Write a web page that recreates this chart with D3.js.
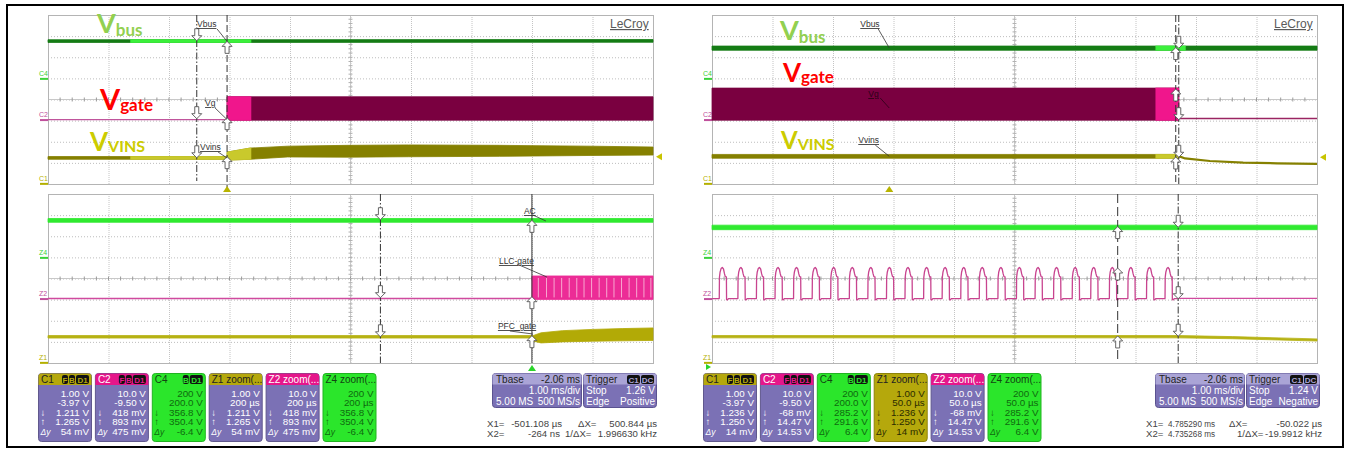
<!DOCTYPE html>
<html><head><meta charset="utf-8">
<script src="https://cdn.jsdelivr.net/npm/d3@7/dist/d3.min.js"></script>
<style>
html,body{margin:0;padding:0;background:#fff;}
svg{display:block;font-family:"Liberation Sans",Arial,sans-serif;}
</style></head><body>
<svg id="chart" width="1348" height="452"></svg>
<script>
// ================= DATA =================
const channelNames = ["C1", "C2", "C4"];
const zoomNames = ["Z1", "Z2", "Z4"];
const voltsPerDiv = [1.0, 10.0, 200.0];
const offsetVolts = [-3.97, -9.50, 200.0];
const channelLabelColors = ["#b4b000", "#c0509c", "#3ad23a"];

// ---- left capture (turn-on) ----
const leftTopDomainMs = [-2.96, 7.04];
const leftZoomDomainUs = [-1600, 400];
const leftCursorMs = [-0.501108, -0.000264];
const leftTrigLevel = 1.26;
const leftReadC1 = [1.211, 1.265];
const leftReadC2 = [0.418, 0.893];
const leftReadC4 = [356.8, 350.4];

const leftVbusEnv = [[-2.96, 340, 366], [0.0, 340, 366], [7.04, 342, 368]];
const leftVgatePre = [[-2.96, 0.0], [0.0, 0.0]];
const leftVgateEnv = [[0.0, -0.3, 10.8], [7.04, -0.3, 10.8]];
const leftVinsPre = [[-2.96, 1.14, 1.27], [0.0, 1.14, 1.27]];
const leftVinsEnv = [[0.0, 1.10, 1.48], [0.38, 1.14, 1.67], [1.0, 1.25, 1.76], [2.0, 1.24, 1.80],
                     [3.0, 1.26, 1.82], [4.5, 1.28, 1.80], [6.0, 1.32, 1.76], [7.04, 1.34, 1.72]];

const leftZ4Env = [[-1600, 332, 368], [400, 332, 368]];
const leftZ2Pre = [[-1600, 0.0], [0.0, 0.0]];
const leftZ2Env = [[0, -0.4, 10.7], [400, -0.4, 10.7]];
const leftZ2Gaps = [21, 48, 73, 98, 123, 148, 172, 197, 222, 247, 271, 296, 321, 346, 370, 393];
const leftZ1Pre = [[-1600, 1.15, 1.27], [0, 1.15, 1.27]];
const leftZ1Env = [[0, 1.02, 1.25], [30, 0.92, 1.40], [100, 0.97, 1.50], [200, 1.0, 1.56], [300, 1.02, 1.60], [400, 1.04, 1.63]];

// ---- right capture (turn-off) ----
const rightTopDomainMs = [-2.93, 7.07];
const rightZoomDomainUs = [4400, 4900];
const rightCursorMs = [4.785290, 4.735268];
const rightTrigLevel = 1.24;
const rightReadC1 = [1.236, 1.250];
const rightReadC2 = [-0.068, 14.47];
const rightReadC4 = [285.2, 291.6];

const rightVbusEnv = [[-2.93, 266, 306], [7.07, 266, 306]];
const rightVgateEnv = [[-2.93, -0.3, 14.9], [4.785, -0.3, 14.9]];
const rightVgatePost = [[4.785, 0.45], [7.07, 0.45]];
const rightVinsEnv = [[-2.93, 1.19, 1.37], [4.785, 1.19, 1.37]];
const rightVinsPost = [[4.785, 1.29], [4.89, 1.18], [5.30, 1.06], [5.85, 0.98], [6.41, 0.95], [7.07, 0.92]];

const rightZ4Env = [[4400, 262, 305], [4900, 262, 305]];
const rightZ2Rises = [4406.0, 4421.4, 4436.7, 4452.1, 4467.4, 4482.8, 4498.1, 4513.5, 4528.8, 4544.2,
                      4559.5, 4574.9, 4590.2, 4605.6, 4620.9, 4636.3, 4651.6, 4667.0, 4682.3, 4697.7,
                      4713.0, 4728.4, 4743.7, 4759.1, 4774.4];
const pulseShapeUs = [0, 0.15, 0.7, 1.5, 2.5, 3.5, 4.3, 5.0, 5.9, 6.05, 6.8, 7.6];
const pulseShapeV  = [0, 10.0, 12.6, 14.2, 14.7, 14.0, 11.8, 10.4, 10.3, -0.5, -0.6, 0];
const rightZ2Post = [[4785, 0.1], [4900, 0.1]];
const rightZ1Env = [[4400, 1.16, 1.27], [4785, 1.16, 1.27], [4830, 1.12, 1.22], [4900, 1.01, 1.11]];

// ---- status bar texts ----
const boxTitles = ["C1", "C2", "C4", "Z1", "Z2", "Z4"];
const boxBadges = [["F", "B", "D1"], ["F", "B", "D1"], ["B", "D1"], [], [], []];
const rowSymbols = ["", "", "\u2193", "\u2191", "\u0394y"];
const leftBoxValues = [
  ["1.00 V", "-3.97 V", "1.211 V", "1.265 V", "54 mV"],
  ["10.0 V", "-9.50 V", "418 mV", "893 mV", "475 mV"],
  ["200 V", "200.0 V", "356.8 V", "350.4 V", "-6.4 V"],
  ["1.00 V", "200 \u00b5s", "1.211 V", "1.265 V", "54 mV"],
  ["10.0 V", "200 \u00b5s", "418 mV", "893 mV", "475 mV"],
  ["200 V", "200 \u00b5s", "356.8 V", "350.4 V", "-6.4 V"]];
const rightBoxValues = [
  ["1.00 V", "-3.97 V", "1.236 V", "1.250 V", "14 mV"],
  ["10.0 V", "-9.50 V", "-68 mV", "14.47 V", "14.53 V"],
  ["200 V", "200.0 V", "285.2 V", "291.6 V", "6.4 V"],
  ["1.00 V", "50.0 \u00b5s", "1.236 V", "1.250 V", "14 mV"],
  ["10.0 V", "50.0 \u00b5s", "-68 mV", "14.47 V", "14.53 V"],
  ["200 V", "50.0 \u00b5s", "285.2 V", "291.6 V", "6.4 V"]];
const leftTbase = ["-2.06 ms", "1.00 ms/div", "5.00 MS", "500 MS/s"];
const rightTbase = ["-2.06 ms", "1.00 ms/div", "5.00 MS", "500 MS/s"];
const leftTrigger = ["C1", "DC", "1.26 V", "Positive"];
const rightTrigger = ["C1", "DC", "1.24 V", "Negative"];
const leftCursorText = ["-501.108 \u00b5s", "-264 ns", "500.844 \u00b5s", "1.996630 kHz"];
const rightCursorText = ["4.785290 ms", "4.735268 ms", "-50.022 \u00b5s", "-19.9912 kHz"];

// ================= LAYOUT / DRAW =================
const svg = d3.select("#chart");
const GW = 605;
const TOPY = [15, 184], BOTY = [194, 363];
const LX = 48, RX = 712;

const C = {
  vbusDark: "#157c15", vbusBright: "#3cf03c",
  gateDark: "#7a0040", gatePink: "#f0168c", gateLine: "#c0559c",
  vinsDark: "#858000", vinsLight: "#c9c92c",
  z4: "#30ea30", z2: "#ec2c96", z2line: "#d04a9e", z2pulse: "#c8448f", z1: "#b6b214", z1band: "#b2aa06",
  purple: "#7b71b5", olive: "#b5a80c", pink: "#e5168a", green: "#2be62b"
};

svg.append("rect").attr("width", 1348).attr("height", 452).attr("fill", "#fff");
svg.append("rect").attr("x", 7).attr("y", 5).attr("width", 1336).attr("height", 442)
  .attr("fill", "none").attr("stroke", "#000").attr("stroke-width", 2);

function yScale(ch, yr) {
  const vd = voltsPerDiv[ch], off = offsetVolts[ch];
  return d3.scaleLinear().domain([-4 * vd - off, 4 * vd - off]).range([yr[1], yr[0]]);
}

let clipId = 0;
function clipRect(x0, x1, y0, y1) {
  const id = "clip" + (clipId++);
  svg.append("clipPath").attr("id", id).append("rect")
    .attr("x", x0).attr("y", y0).attr("width", Math.max(0, x1 - x0)).attr("height", y1 - y0);
  return "url(#" + id + ")";
}

function drawGrid(x0, yr) {
  const g = svg.append("g");
  const [y0, y1] = yr;
  const dx = d3.scaleLinear().domain([0, 10]).range([x0, x0 + GW]);
  const dy = d3.scaleLinear().domain([0, 8]).range([y0, y1]);
  g.append("g").attr("transform", `translate(0,${y0})`)
    .call(d3.axisTop(dx).tickValues(d3.range(1, 10)).tickSize(-(y1 - y0)).tickFormat(""))
    .call(s => s.select(".domain").remove())
    .call(s => s.selectAll("line").attr("stroke", "#c4c4c4").attr("stroke-dasharray", "1,1"));
  g.append("g").attr("transform", `translate(${x0},0)`)
    .call(d3.axisLeft(dy).tickValues(d3.range(1, 8)).tickSize(-GW).tickFormat(""))
    .call(s => s.select(".domain").remove())
    .call(s => s.selectAll("line").attr("stroke", "#bdbdbd").attr("stroke-dasharray", "1,2"));
  const cy = dy(4), cx = dx(5);
  g.append("line").attr("x1", x0).attr("x2", x0 + GW).attr("y1", cy).attr("y2", cy).attr("stroke", "#c8c8c8");
  g.append("line").attr("x1", cx).attr("x2", cx).attr("y1", y0).attr("y2", y1).attr("stroke", "#c8c8c8");
  g.selectAll(".tx").data(d3.range(1, 50)).join("line")
    .attr("x1", d => dx(d / 5)).attr("x2", d => dx(d / 5)).attr("y1", cy - 2).attr("y2", cy + 2)
    .attr("stroke", "#9a9a9a");
  g.selectAll(".ty").data(d3.range(1, 40)).join("line")
    .attr("x1", cx - 2).attr("x2", cx + 2).attr("y1", d => dy(d / 5)).attr("y2", d => dy(d / 5))
    .attr("stroke", "#b0b0b0");
  g.append("rect").attr("x", x0 + 0.5).attr("y", y0 + 0.5).attr("width", GW).attr("height", y1 - y0)
    .attr("fill", "none").attr("stroke", "#b4b4b4");
}

function band(env, xs, ys, color, clip, sw) {
  const p = svg.append("path").datum(env)
    .attr("d", d3.area().x(d => xs(d[0])).y0(d => ys(d[1])).y1(d => ys(d[2])))
    .attr("fill", color).attr("stroke", color).attr("stroke-width", sw == null ? 0.8 : sw);
  if (clip) p.attr("clip-path", clip);
  return p;
}
function trace(pts, xs, ys, color, w, clip) {
  const p = svg.append("path").datum(pts)
    .attr("d", d3.line().x(d => xs(d[0])).y(d => ys(d[1])))
    .attr("fill", "none").attr("stroke", color).attr("stroke-width", w).attr("stroke-linejoin", "round");
  if (clip) p.attr("clip-path", clip);
  return p;
}

function chanMarkers(x0, yr, names) {
  names.forEach((n, i) => {
    const ys = yScale(i, yr);
    const y = Math.min(ys(0), yr[1]);
    svg.append("line").attr("x1", x0 - 8).attr("x2", x0).attr("y1", y + 0.5).attr("y2", y + 0.5)
      .attr("stroke", channelLabelColors[i]).attr("stroke-width", 2);
    svg.append("text").attr("x", x0 - 9).attr("y", y - 2.5).attr("font-size", 7)
      .attr("fill", channelLabelColors[i]).text(n);
  });
}

function cursorLine(x, yr, dash) {
  const l = svg.append("line").attr("x1", x).attr("x2", x).attr("y1", yr[0]).attr("y2", yr[1])
    .attr("stroke", "#333").attr("stroke-width", 1);
  if (dash) l.attr("stroke-dasharray", dash);
}
function arrow(x, yTip, s) {
  const pts = [[0, 0], [-5, -5], [-2, -5], [-2, -12], [2, -12], [2, -5], [5, -5]];
  svg.append("path").attr("d", d3.line()(pts.map(([a, b]) => [x + a, yTip + b * s])) + "Z")
    .attr("fill", "#fff").attr("stroke", "#555").attr("stroke-width", 0.9);
}
function tag(txt, x, y, lx1, ly1, lx2, ly2, fill) {
  svg.append("text").attr("x", x).attr("y", y).attr("font-size", 8.5)
    .attr("fill", fill || "#333").attr("text-decoration", "underline").text(txt);
  svg.append("line").attr("x1", lx1).attr("y1", ly1).attr("x2", lx2).attr("y2", ly2)
    .attr("stroke", fill || "#333").attr("stroke-width", 0.8);
}
function bigLabel(x, y, main, sub, size, subSize, color, dy) {
  const t = svg.append("text").attr("x", x).attr("y", y).attr("fill", color)
    .attr("font-family", "Lato, 'Open Sans', sans-serif").attr("font-weight", 700);
  t.append("tspan").attr("font-size", size).text(main);
  t.append("tspan").attr("font-size", subSize).attr("dy", dy).text(sub);
}
function lecroy(x, y) {
  svg.append("text").attr("x", x).attr("y", y).attr("font-size", 12).attr("fill", "#5a5a5a")
    .attr("text-decoration", "underline").text("LeCroy");
}
function trigMarkers(xTop, xBot, x0, trigLevelY, botColor, botLeft) {
  svg.append("path").attr("d", `M${xTop - 4},${TOPY[1] + 8} L${xTop},${TOPY[1] + 2} L${xTop + 4},${TOPY[1] + 8}Z`)
    .attr("fill", "#b8b400");
  if (botLeft) {
    svg.append("path").attr("d", `M${x0 - 1},${BOTY[1] + 4} L${x0 - 6},${BOTY[1] + 1} L${x0 - 6},${BOTY[1] + 7}Z`)
      .attr("fill", botColor);
  } else {
    svg.append("path").attr("d", `M${xBot - 4},${BOTY[1] + 8} L${xBot},${BOTY[1] + 2} L${xBot + 4},${BOTY[1] + 8}Z`)
      .attr("fill", botColor);
  }
  svg.append("path").attr("d", `M${x0 + GW + 3},${trigLevelY} L${x0 + GW + 9},${trigLevelY - 3.5} L${x0 + GW + 9},${trigLevelY + 3.5}Z`)
    .attr("fill", "#c8c400");
}

// ================= LEFT CAPTURE =================
(function () {
  drawGrid(LX, TOPY); drawGrid(LX, BOTY);
  const xT = d3.scaleLinear().domain(leftTopDomainMs).range([LX, LX + GW]);
  const xZ = d3.scaleLinear().domain(leftZoomDomainUs).range([LX, LX + GW]);
  const y1 = yScale(0, TOPY), y2 = yScale(1, TOPY), y4 = yScale(2, TOPY);
  const z1 = yScale(0, BOTY), z2 = yScale(1, BOTY), z4 = yScale(2, BOTY);
  const hl = clipRect(xT(leftZoomDomainUs[0] / 1000), xT(leftZoomDomainUs[1] / 1000), 0, 200);

  chanMarkers(LX, TOPY, channelNames);
  chanMarkers(LX, BOTY, zoomNames);

  band(leftVbusEnv, xT, y4, C.vbusDark);
  band(leftVbusEnv, xT, y4, C.vbusBright, hl);
  trace(leftVgatePre, xT, y2, C.gateLine, 1.3);
  band(leftVgateEnv, xT, y2, C.gateDark);
  band(leftVgateEnv, xT, y2, C.gatePink, hl);
  band(leftVinsPre, xT, y1, C.vinsDark);
  band(leftVinsEnv, xT, y1, C.vinsDark);
  band(leftVinsPre, xT, y1, C.vinsLight, hl);
  band(leftVinsEnv, xT, y1, C.vinsLight, hl);

  band(leftZ4Env, xZ, z4, C.z4);
  trace(leftZ2Pre, xZ, z2, C.z2line, 1.6);
  band(leftZ2Env, xZ, z2, C.z2);
  svg.selectAll(".gap").data(leftZ2Gaps).join("line")
    .attr("x1", d => xZ(d)).attr("x2", d => xZ(d))
    .attr("y1", z2(10.7) + 2).attr("y2", z2(-0.4) - 2)
    .attr("stroke", "#f7a8d0").attr("stroke-width", 1);
  band(leftZ1Pre, xZ, z1, C.z1);
  band(leftZ1Env, xZ, z1, C.z1band);

  const xa = xT(leftCursorMs[0]), xb = xT(leftCursorMs[1]);
  cursorLine(xa, [TOPY[0], TOPY[1] - 3], "7,2,1.5,2");
  cursorLine(xb, [TOPY[0], TOPY[1] + 5], "7,3");
  [[y4, leftReadC4], [y2, leftReadC2], [y1, leftReadC1]].forEach(([ys, r]) => {
    arrow(xa, ys(r[0]), 1); arrow(xb, ys(r[1]), -1);
  });
  const za = xZ(leftCursorMs[0] * 1000), zb = xZ(leftCursorMs[1] * 1000);
  cursorLine(za, BOTY, "7,2,1.5,2");
  cursorLine(zb, [BOTY[0], BOTY[1]], null);
  [[z4, leftReadC4], [z2, leftReadC2], [z1, leftReadC1]].forEach(([ys, r]) => {
    arrow(za, ys(r[0]), 1); arrow(zb, ys(r[1]), -1);
  });

  tag("Vbus", xb - 30, 27, xb - 10, 29, xb, y4(leftReadC4[1]));
  tag("Vg", xb - 22, 106, xb - 12, 108, xb, y2(0));
  tag("Vvins", xb - 27, 150, xb - 9, 152, xb, y1(1.2));
  tag("AC", zb - 8, 214, zb + 1, 215, zb + 14, 221);
  tag("LLC-gate", zb - 33, 264, zb - 15, 264, zb + 15, 277);
  tag("PFC_gate", zb - 34, 329, zb - 22, 331, zb + 1, 334);

  bigLabel(97, 33, "V", "bus", 27, 17, "#92d050", 3);
  bigLabel(100, 110, "V", "gate", 29, 17, "#ff0000", 1);
  bigLabel(90, 151, "V", "VINS", 26, 16, "#cccc00", 1);
  lecroy(610, 28);
  trigMarkers(xT(0), xZ(0), LX, y1(leftTrigLevel), "#2ad42a", false);
})();

// ================= RIGHT CAPTURE =================
(function () {
  drawGrid(RX, TOPY); drawGrid(RX, BOTY);
  const xT = d3.scaleLinear().domain(rightTopDomainMs).range([RX, RX + GW]);
  const xZ = d3.scaleLinear().domain(rightZoomDomainUs).range([RX, RX + GW]);
  const y1 = yScale(0, TOPY), y2 = yScale(1, TOPY), y4 = yScale(2, TOPY);
  const z1 = yScale(0, BOTY), z2 = yScale(1, BOTY), z4 = yScale(2, BOTY);
  const hl = clipRect(xT(rightZoomDomainUs[0] / 1000), xT(rightZoomDomainUs[1] / 1000), 0, 200);

  chanMarkers(RX, TOPY, channelNames);
  chanMarkers(RX, BOTY, zoomNames);

  band(rightVbusEnv, xT, y4, C.vbusDark);
  band(rightVbusEnv, xT, y4, C.vbusBright, hl);
  band(rightVgateEnv, xT, y2, C.gateDark);
  band(rightVgateEnv, xT, y2, C.gatePink, hl);
  trace(rightVgatePost, xT, y2, "#9a2462", 1.5);
  band(rightVinsEnv, xT, y1, C.vinsDark);
  band(rightVinsEnv, xT, y1, C.vinsLight, hl);
  trace(rightVinsPost, xT, y1, C.vinsDark, 2.2);

  band(rightZ4Env, xZ, z4, C.z4);
  const z2pts = [[rightZoomDomainUs[0], 0]];
  rightZ2Rises.forEach(r => pulseShapeUs.forEach((dt, i) => z2pts.push([r + dt, pulseShapeV[i]])));
  z2pts.push([rightZ2Post[0][0], 0]);
  trace(z2pts, xZ, z2, C.z2pulse, 1.3);
  trace(rightZ2Post, xZ, z2, C.z2line, 1.4);
  band(rightZ1Env, xZ, z1, C.z1);

  const xa = xT(rightCursorMs[0]), xb = xT(rightCursorMs[1]);
  cursorLine(xb, TOPY, "7,3");
  cursorLine(xa, TOPY, "7,2,1.5,2");
  [[y4, rightReadC4], [y2, rightReadC2], [y1, rightReadC1]].forEach(([ys, r]) => {
    arrow(xa, ys(r[0]), 1); arrow(xb, ys(r[1]), -1);
  });
  const za = xZ(rightCursorMs[0] * 1000), zb = xZ(rightCursorMs[1] * 1000);
  cursorLine(zb, BOTY, "9,4");
  cursorLine(za, BOTY, "7,2,1.5,2");
  [[z4, rightReadC4], [z2, rightReadC2], [z1, rightReadC1]].forEach(([ys, r]) => {
    arrow(za, ys(r[0]), 1); arrow(zb, ys(r[1]), -1);
  });

  const x0 = xT(0);
  tag("Vbus", x0 - 29, 27, x0 - 11, 29, x0, y4(288));
  tag("Vg", x0 - 21, 97, x0 - 9, 98, x0, 108, "#2a0016");
  tag("Vvins", x0 - 31, 143, x0 - 14, 145, x0, y1(1.28));

  bigLabel(780, 40, "V", "bus", 27, 17, "#92d050", 3);
  bigLabel(783, 82, "V", "gate", 26, 17, "#ff0000", 1);
  bigLabel(781, 149, "V", "VINS", 24, 16, "#cccc00", 1);
  lecroy(1274, 28);
  trigMarkers(xT(0), xZ(0), RX, y1(rightTrigLevel), "#2ad42a", true);
})();

// ================= STATUS BAR =================
const boxKinds = {
  left:  [[C.olive, C.purple, "#222", "#fff"], [C.pink, C.purple, "#fff", "#fff"], [C.green, C.green, "#124412", "#0f6a0f"],
          [C.olive, C.purple, "#222", "#fff"], [C.pink, C.purple, "#fff", "#fff"], [C.green, C.green, "#124412", "#0f6a0f"]],
  right: [[C.olive, C.purple, "#222", "#fff"], [C.pink, C.purple, "#fff", "#fff"], [C.green, C.green, "#124412", "#0f6a0f"],
          [C.olive, C.olive, "#222", "#2b2b00"], [C.pink, C.purple, "#fff", "#fff"], [C.green, C.green, "#124412", "#0f6a0f"]]
};

function roundedHeader(g, w, hh, color) {
  g.append("path").attr("d", `M0.5,${hh} L0.5,3.5 Q0.5,0.5 3.5,0.5 L${w - 2.5},0.5 Q${w + 0.5},0.5 ${w + 0.5},3.5 L${w + 0.5},${hh} Z`)
    .attr("fill", color);
}

function statusBoxes(x0, values, kinds) {
  const w = 53, h = 68, hh = 12;
  values.forEach((vals, i) => {
    const [head, body, headTxt, bodyTxt] = kinds[i];
    const g = svg.append("g").attr("transform", `translate(${x0 + i * 56.9},373)`);
    g.append("rect").attr("x", 0.5).attr("y", 0.5).attr("width", w).attr("height", h).attr("rx", 3)
      .attr("fill", body).attr("stroke", d3.color(body).darker(0.7)).attr("stroke-width", 1);
    if (head !== body) roundedHeader(g, w, hh, head);
    const title = boxTitles[i] + (i >= 3 ? " zoom(..." : "");
    g.append("text").attr("x", 3).attr("y", 10).attr("font-size", 10).attr("fill", headTxt).text(title);
    const badges = boxBadges[i];
    let bx = w - 1;
    const bw = b => (b.length > 1 ? 14 : 7);
    for (let k = badges.length - 1; k >= 0; k--) {
      const b = badges[k], ww = bw(b);
      bx -= ww;
      g.append("rect").attr("x", bx).attr("y", 2).attr("width", ww - 1).attr("height", 9).attr("rx", 2).attr("fill", "#111");
      g.append("text").attr("x", bx + (ww - 1) / 2).attr("y", 9.6).attr("text-anchor", "middle")
        .attr("font-size", 8).attr("font-weight", 700).attr("fill", head).text(b);
    }
    vals.forEach((v, r) => {
      const by = 23.5 + r * 9.6;
      g.append("text").attr("x", w - 2).attr("y", by).attr("text-anchor", "end").attr("font-size", 9.8)
        .attr("fill", bodyTxt).text(v);
      if (rowSymbols[r]) g.append("text").attr("x", 2.5).attr("y", by).attr("font-size", r === 4 ? 8.5 : 9.5)
        .attr("font-style", r === 4 ? "italic" : "normal").attr("fill", bodyTxt).text(rowSymbols[r]);
    });
  });
}

function timeBoxes(x, tb, trig, ctext, pos, fitLen) {
  const g = svg.append("g").attr("transform", `translate(${x},373)`);
  g.append("rect").attr("x", 0.5).attr("y", 0.5).attr("width", 89).attr("height", 34).attr("rx", 3)
    .attr("fill", C.purple).attr("stroke", "#5a5290");
  roundedHeader(g, 89, 11.5, "#aaa4d6");
  g.append("text").attr("x", 4).attr("y", 9.5).attr("font-size", 10).attr("fill", "#222").text("Tbase");
  g.append("text").attr("x", 88).attr("y", 9.5).attr("text-anchor", "end").attr("font-size", 10).attr("fill", "#222").text(tb[0]);
  g.append("text").attr("x", 88).attr("y", 21).attr("text-anchor", "end").attr("font-size", 10).attr("fill", "#fff").text(tb[1]);
  g.append("text").attr("x", 4).attr("y", 32).attr("font-size", 10).attr("fill", "#fff").text(tb[2]);
  g.append("text").attr("x", 88).attr("y", 32).attr("text-anchor", "end").attr("font-size", 10).attr("fill", "#fff").text(tb[3]);
  const t = svg.append("g").attr("transform", `translate(${x + 91},373)`);
  t.append("rect").attr("x", 0.5).attr("y", 0.5).attr("width", 73).attr("height", 34).attr("rx", 3)
    .attr("fill", C.purple).attr("stroke", "#5a5290");
  roundedHeader(t, 73, 11.5, "#aaa4d6");
  t.append("text").attr("x", 3).attr("y", 9.5).attr("font-size", 10).attr("fill", "#222").text("Trigger");
  [[trig[0], 44], [trig[1], 58]].forEach(([b, bx]) => {
    t.append("rect").attr("x", bx).attr("y", 2).attr("width", 13).attr("height", 9).attr("rx", 2).attr("fill", "#111");
    t.append("text").attr("x", bx + 6.5).attr("y", 9.6).attr("text-anchor", "middle").attr("font-size", 8)
      .attr("font-weight", 700).attr("fill", "#aaa4d6").text(b);
  });
  t.append("text").attr("x", 3).attr("y", 21).attr("font-size", 10).attr("fill", "#fff").text("Stop");
  t.append("text").attr("x", 72).attr("y", 21).attr("text-anchor", "end").attr("font-size", 10).attr("fill", "#fff").text(trig[2]);
  t.append("text").attr("x", 3).attr("y", 32).attr("font-size", 10).attr("fill", "#fff").text("Edge");
  t.append("text").attr("x", 72).attr("y", 32).attr("text-anchor", "end").attr("font-size", 10).attr("fill", "#fff").text(trig[3]);

  // cursor readouts: pos = [labelX, val1EndX, val2EndX, dxLabelX, invLabelX, valRightX]
  const [lx, v1e, v2e, dxl, ivl, vr] = pos;
  const txt = (s, xx, yy, anchor, len) => {
    const e = svg.append("text").attr("x", xx).attr("y", yy).attr("font-size", 9.6)
      .attr("fill", "#444").attr("text-anchor", anchor || "start").text(s);
    if (len) e.attr("textLength", len).attr("lengthAdjust", "spacingAndGlyphs");
    return e;
  };
  txt("X1=", lx, 427); txt(ctext[0], v1e, 427, "end", fitLen);
  txt("X2=", lx, 436.5); txt(ctext[1], v2e, 436.5, "end", fitLen);
  txt("\u0394X=", dxl, 427); txt(ctext[2], vr, 427, "end");
  txt("1/\u0394X=", ivl, 436.5); txt(ctext[3], vr, 436.5, "end");
}

statusBoxes(38, leftBoxValues, boxKinds.left);
statusBoxes(703, rightBoxValues, boxKinds.right);
timeBoxes(492, leftTbase, leftTrigger, leftCursorText, [487, 562, 560, 578, 565, 657], null);
timeBoxes(1155, rightTbase, rightTrigger, rightCursorText, [1146, 1215, 1215, 1229, 1237, 1322], 47);
</script>
</body></html>
